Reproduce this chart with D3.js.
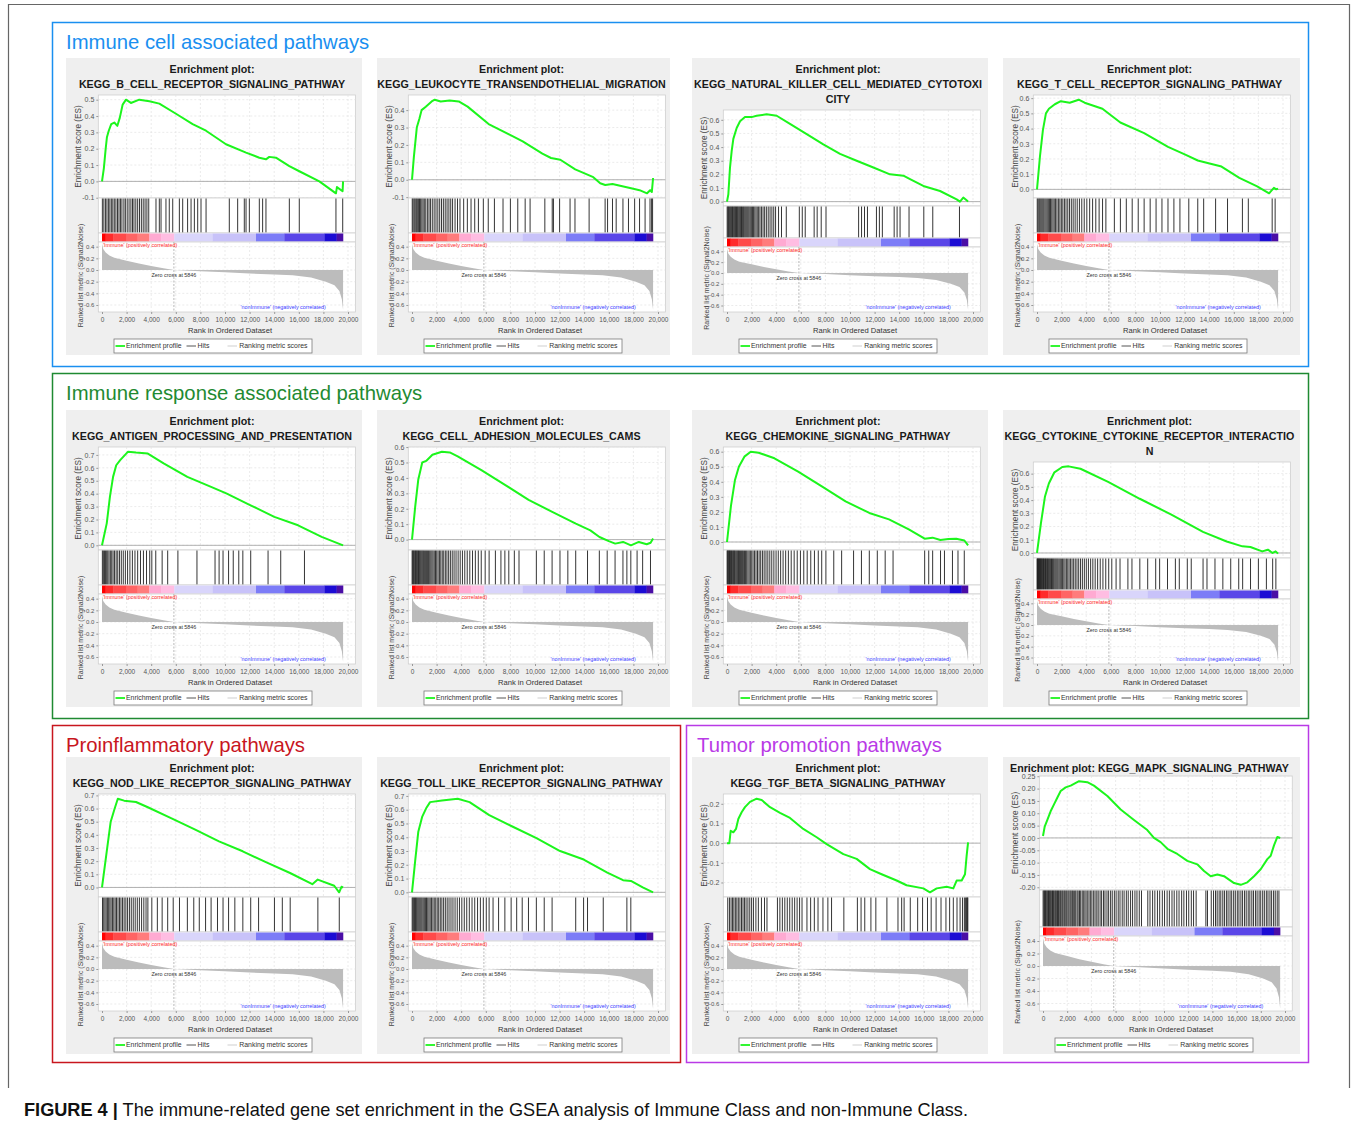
<!DOCTYPE html>
<html>
<head>
<meta charset="utf-8">
<script src="https://cdn.jsdelivr.net/npm/d3@7"></script>
<style>
body { margin: 0; background: #fff; }
svg { display: block; font-family: Arial, "Liberation Sans", sans-serif; }
</style>
</head>
<body>
<div id="chart"></div>
<script>
// ---- Data ----
var groupTitles = ["Immune cell associated pathways", "Immune response associated pathways",
                   "Proinflammatory pathways", "Tumor promotion pathways"];
var caption = ["FIGURE 4 |", " The immune-related gene set enrichment in the GSEA analysis of Immune Class and non-Immune Class."];
var legendLabels = ["Enrichment profile", "Hits", "Ranking metric scores"];
var rankTicks = [0, 2000, 4000, 6000, 8000, 10000, 12000, 14000, 16000, 18000, 20000];
var metricTicks = [0.4, 0.2, 0.0, -0.2, -0.4, -0.6];
var zeroCross = 5846;
var posLabel = "'Immune' (positively correlated)";
var negLabel = "'nonImmune' (negatively correlated)";

// ranked list metric (same for every panel)
var rankMetric = [[0,0.45],[100,0.36],[300,0.3],[600,0.25],[1000,0.21],[2000,0.16],[3000,0.11],[4000,0.07],
  [5000,0.03],[5846,0],[8000,-0.02],[10000,-0.04],[12000,-0.06],[14000,-0.075],[15500,-0.09],[17000,-0.13],
  [18200,-0.2],[18900,-0.26],[19300,-0.36],[19500,-0.5],[19600,-0.68]];

// heat strip blocks (rank breaks and colours)
var barBreaks = [0, 300, 900, 1950, 2900, 3850, 4800, 5880, 9000, 12520, 14820, 18080, 19080, 19600];
var barColors = ["#ff0000","#ff2b2b","#ff4a4a","#ff6464","#ff7c7c","#ffaad2","#ffbde2","#d9d5fb",
                 "#c8c2f9","#7c7cf7","#5a46e8","#1c0cd4","#4a0ea6"];

// panel titles
var titleBCell = ["Enrichment plot:", "KEGG_B_CELL_RECEPTOR_SIGNALING_PATHWAY"];
var titleLeuko = ["Enrichment plot:", "KEGG_LEUKOCYTE_TRANSENDOTHELIAL_MIGRATION"];
var titleNK = ["Enrichment plot:", "KEGG_NATURAL_KILLER_CELL_MEDIATED_CYTOTOXI", "CITY"];
var titleTCell = ["Enrichment plot:", "KEGG_T_CELL_RECEPTOR_SIGNALING_PATHWAY"];
var titleAntigen = ["Enrichment plot:", "KEGG_ANTIGEN_PROCESSING_AND_PRESENTATION"];
var titleCams = ["Enrichment plot:", "KEGG_CELL_ADHESION_MOLECULES_CAMS"];
var titleChemo = ["Enrichment plot:", "KEGG_CHEMOKINE_SIGNALING_PATHWAY"];
var titleCyto = ["Enrichment plot:", "KEGG_CYTOKINE_CYTOKINE_RECEPTOR_INTERACTIO", "N"];
var titleNod = ["Enrichment plot:", "KEGG_NOD_LIKE_RECEPTOR_SIGNALING_PATHWAY"];
var titleToll = ["Enrichment plot:", "KEGG_TOLL_LIKE_RECEPTOR_SIGNALING_PATHWAY"];
var titleTgf = ["Enrichment plot:", "KEGG_TGF_BETA_SIGNALING_PATHWAY"];
var titleMapk = ["Enrichment plot: KEGG_MAPK_SIGNALING_PATHWAY"];

// running enrichment score, [rank, ES]
var esBCell = [[0,0],[150,0.08],[300,0.2],[400,0.27],[550,0.31],[750,0.35],[1000,0.36],[1250,0.34],[1450,0.39],
  [1680,0.47],[1950,0.5],[2350,0.48],[3030,0.5],[3850,0.49],[4660,0.476],[6015,0.414],[7370,0.351],[8455,0.31],
  [10080,0.227],[11710,0.176],[12790,0.145],[13330,0.135],[13600,0.15],[14140,0.145],[15230,0.093],[16040,0.062],
  [17670,0],[19020,-0.073],[19100,-0.035],[19560,-0.06],[19600,0]];
var esLeuko = [[0,0],[150,0.13],[390,0.3],[600,0.35],[780,0.4],[1120,0.42],[1600,0.45],[1850,0.46],[2330,0.45],
  [3060,0.455],[3800,0.45],[4520,0.42],[6230,0.32],[8170,0.25],[9000,0.22],[10600,0.15],[11300,0.125],[12060,0.115],
  [13270,0.06],[14740,0.015],[15300,-0.02],[15710,-0.03],[16300,-0.025],[16920,-0.035],[17900,-0.05],[18500,-0.06],
  [19110,-0.078],[19360,-0.06],[19500,-0.07],[19600,0.01]];
var esNK = [[0,0],[110,0.054],[244,0.25],[380,0.37],[515,0.46],[786,0.54],[1060,0.59],[1460,0.62],[2000,0.62],
  [2410,0.63],[3220,0.64],[4040,0.63],[5120,0.57],[6480,0.495],[7830,0.42],[9190,0.35],[10540,0.3],[11900,0.25],
  [13250,0.2],[14340,0.19],[14880,0.165],[15960,0.115],[17320,0.078],[18670,0.017],[18940,0],[19210,0.03],
  [19480,0.01],[19600,0]];
var esTCell = [[0,0],[240,0.216],[480,0.39],[726,0.5],[970,0.53],[1450,0.56],[1935,0.58],[2660,0.57],[3390,0.59],
  [3870,0.57],[5320,0.53],[6775,0.44],[8710,0.37],[10650,0.28],[12100,0.227],[13070,0.19],[14030,0.17],[15000,0.15],
  [16450,0.076],[17900,0.02],[18870,-0.026],[19260,0.01],[19450,0],[19600,0.005]];
var esAntigen = [[0,0],[386,0.17],[643,0.375],[900,0.53],[1157,0.62],[1478,0.66],[2120,0.725],[2763,0.718],
  [3727,0.71],[5012,0.635],[6940,0.53],[8868,0.453],[10150,0.4],[12080,0.31],[14010,0.22],[15940,0.155],
  [17860,0.065],[19600,0]];
var esCams = [[0,0],[256,0.21],[512,0.39],[833,0.5],[1150,0.51],[1660,0.55],[2430,0.57],[3070,0.565],[3715,0.54],
  [5640,0.45],[7560,0.355],[9480,0.257],[11400,0.18],[13320,0.104],[14500,0.06],[15240,0.017],[16000,-0.01],
  [16520,-0.026],[17160,-0.015],[17800,-0.037],[18440,-0.015],[19080,-0.03],[19400,-0.02],[19600,0.007]];
var esChemo = [[0,0],[321,0.24],[643,0.41],[964,0.5],[1414,0.567],[1928,0.6],[2570,0.593],[3856,0.556],[5783,0.468],
  [7710,0.37],[9640,0.27],[11570,0.193],[13170,0.15],[14780,0.084],[16070,0.022],[16710,0.029],[17350,0.013],
  [18000,0.02],[18640,0.022],[19300,0.01],[19600,-0.022]];
var esCyto = [[0,0],[321,0.225],[643,0.425],[964,0.525],[1414,0.61],[2056,0.65],[2570,0.655],[3534,0.637],
  [5783,0.537],[8354,0.41],[10925,0.29],[13495,0.16],[15420,0.087],[16700,0.05],[17350,0.045],[18310,0.012],
  [18770,0.025],[19150,0],[19400,0.012],[19600,-0.005]];
var esNod = [[0,0],[386,0.275],[707,0.5],[1030,0.6],[1285,0.675],[1800,0.66],[2763,0.65],[3727,0.61],[5655,0.525],
  [7580,0.44],[9510,0.35],[11440,0.275],[13370,0.19],[15290,0.11],[17100,0.025],[17540,0.06],[18880,0.013],
  [19280,-0.037],[19470,0.005],[19600,0]];
var esToll = [[0,0],[256,0.226],[512,0.44],[833,0.55],[1150,0.61],[1470,0.655],[2430,0.667],[3715,0.68],
  [4680,0.655],[6280,0.56],[8200,0.476],[10120,0.393],[12040,0.3],[13960,0.238],[15880,0.143],[17160,0.088],
  [17800,0.083],[18760,0.036],[19600,0]];
var esTgf = [[0,0],[190,0],[300,0.063],[515,0.055],[730,0.072],[920,0.123],[1190,0.157],[1460,0.183],[1870,0.21],
  [2410,0.226],[2820,0.219],[3500,0.183],[4310,0.154],[5120,0.128],[6200,0.072],[7290,0.03],[8100,-0.005],
  [9460,-0.056],[10540,-0.08],[11620,-0.132],[12570,-0.158],[13790,-0.19],[14600,-0.214],[15960,-0.23],
  [16500,-0.25],[17050,-0.23],[17860,-0.222],[18400,-0.23],[18670,-0.19],[19080,-0.19],[19350,-0.158],
  [19480,-0.066],[19600,0.004]];
var esMapk = [[0,0.008],[140,0.046],[360,0.073],[630,0.108],[910,0.136],[1180,0.163],[1460,0.19],[1870,0.205],
  [2290,0.212],[2560,0.219],[2980,0.23],[3660,0.226],[4210,0.212],[5320,0.17],[6420,0.115],[7520,0.073],
  [8620,0.032],[9170,0],[9720,-0.017],[10280,-0.044],[11100,-0.065],[11930,-0.093],[12750,-0.107],[13310,-0.134],
  [13860,-0.155],[14410,-0.148],[14960,-0.155],[15790,-0.183],[16340,-0.19],[16890,-0.18],[17440,-0.155],
  [17990,-0.127],[18540,-0.086],[18820,-0.072],[19090,-0.03],[19370,0.004],[19600,0]];

// hit positions (rank of each gene of the set)
var hitsBCell = [30,150,280,400,520,640,760,880,1000,1130,1260,1380,1500,1620,1780,1900,2050,2200,2350,2480,2600,
  2750,2900,3050,3200,3350,3500,3650,3800,4390,4660,4800,5200,5470,5750,6290,6560,6960,7240,7510,7780,8050,8460,
  10350,11030,11570,11710,11980,12790,13060,13330,15230,16040,19020,19570];
var hitsLeuko = [20,90,180,260,350,430,520,610,700,800,900,1000,1120,1250,1380,1500,1650,1800,1950,2100,2250,
  2400,2550,2700,2850,3000,3150,3300,3500,3700,3900,4200,4500,4800,5100,5400,5800,6200,6700,7400,8000,8600,9200,
  9600,10800,11400,11500,12000,12850,13250,14400,15700,15900,16300,16600,17150,17600,18100,18500,18950,19350,
  19480,19560];
var hitsNK = [15,70,130,190,260,320,380,450,510,580,640,700,770,840,900,970,1040,1110,1180,1250,1330,1400,1480,
  1560,1640,1720,1800,1890,1980,2070,2160,2260,2360,2460,2570,2680,2800,2930,3060,3200,3350,3500,3650,3800,3950,
  4190,4430,4820,5880,6120,6360,7085,7330,7660,8050,10700,10940,11180,11420,12150,12390,12630,13590,13830,14070,
  14800,16000,16730,18900];
var hitsTCell = [20,90,170,240,320,400,480,560,650,740,830,920,1010,1100,1200,1300,1400,1510,1620,1740,1860,1980,
  2100,2230,2360,2500,2640,2790,2940,3100,3270,3450,3640,3840,4050,4280,4520,4780,5050,5330,5600,6290,6780,7260,
  7740,8230,8710,9200,9680,10160,10650,11130,11620,12340,13070,13550,14520,15490,16700,17180,19120,19360];
var hitsAntigen = [30,110,200,290,380,470,570,680,790,900,1020,1150,1280,1420,1570,1730,1900,2080,2270,2470,2680,
  2900,3130,3370,3620,3880,4050,4370,4890,5340,6170,7720,9190,9520,9840,10290,10670,11120,11450,12090,13500,14530,
  16460];
var hitsCams = [10,60,110,170,230,290,350,410,470,530,600,670,740,810,880,950,1030,1110,1190,1270,1350,1440,1530,
  1620,1710,1810,1910,2010,2120,2230,2340,2460,2580,2710,2840,2980,3120,3270,3420,3580,3750,3920,4100,4290,4490,
  4700,4920,5150,5390,5630,5950,6270,6780,7230,7550,7870,8320,8700,10110,10750,11390,12030,12670,13310,14270,
  15230,15870,16510,17150,17470,17790,18300,18750,19390];
var hitsChemo = [10,55,100,150,200,250,300,360,420,480,540,600,660,730,800,870,940,1010,1090,1170,1250,1330,1420,
  1510,1600,1700,1800,1900,2010,2120,2240,2360,2480,2610,2740,2880,3020,3170,3320,3480,3640,3810,3990,4170,4360,
  4560,4770,4990,5220,5460,5710,5970,6240,6520,6810,7110,7420,7700,8040,8680,9320,10290,10930,11570,12220,12860,
  13500,16070,16400,16720,17360,17680,18330,18780,19290];
var hitsCyto = [5,40,80,120,160,200,245,290,335,380,430,480,530,580,635,690,745,800,860,920,980,1040,1110,1180,
  1250,1320,1390,1470,1550,1630,1710,1800,1890,1980,2080,2180,2280,2390,2500,2610,2730,2850,2980,3110,3250,3390,
  3540,3690,3850,4010,4180,4360,4540,4730,4930,5140,5360,5590,5830,6080,6430,6750,7390,7720,8360,9000,9650,9970,
  10610,11250,11570,12220,12540,13500,13820,14470,15110,15750,16400,16720,17360,18000,18650,19160,19420];
var hitsNod = [40,140,240,340,440,540,640,740,850,960,1070,1180,1300,1420,1540,1670,1800,1940,2080,2230,2380,2540,
  2700,2870,3040,3220,3400,3580,3730,4050,4500,4890,5340,5790,6300,6940,7460,7910,8420,8870,9390,9840,10290,10800,
  11450,12090,12730,14020,14660,15300,17550,19290];
var hitsToll = [15,75,140,210,280,350,420,500,580,660,740,820,910,1000,1090,1180,1280,1380,1480,1590,1700,1810,
  1930,2050,2170,2300,2430,2570,2710,2860,3010,3170,3330,3500,3680,3860,4050,4250,4450,4660,4880,5100,5330,5560,
  5800,6040,6270,6590,7040,7550,8060,8510,8960,9470,10110,10750,11390,13310,13950,14270,15550,17470,17790];
var hitsTgf = [60,200,330,450,560,680,800,920,1050,1180,1300,1420,1550,1700,1850,2000,2150,2350,2550,2800,3050,
  3250,4100,4300,4500,4700,4900,5100,5300,5500,5700,5900,6100,6500,6800,7100,7400,7800,8200,8500,9500,10600,10900,
  11200,11700,12100,13000,13900,14200,14400,14900,15500,15900,16300,16600,17000,17400,17800,18100,18400,18700,
  18950,19150,19300,19400,19480,19540,19580];
var hitsMapk = [10,75,130,205,262,330,395,455,528,590,648,725,785,857,918,995,1056,1134,1197,1275,1338,1425,1486,
  1574,1643,1736,1805,1893,1968,2066,2148,2245,2327,2426,2505,2617,2705,2818,2903,3017,3114,3238,3332,3459,3563,
  3697,3806,3938,4044,4186,4303,4447,4562,4718,4843,4998,5122,5287,5424,5587,5722,5898,6043,6217,6364,6548,6703,
  6887,7044,7238,7404,7597,7765,7956,8140,8660,8843,9058,9244,9457,9643,9861,10044,10258,10443,10661,10842,11058,
  11243,11458,11642,11857,12043,12258,12442,12655,13460,13594,13905,14094,14258,14395,14557,14694,14858,14995,
  15157,15294,15458,15595,15757,15894,16058,16194,16357,16495,16657,16794,16958,17095,17258,17394,17557,17694,
  17858,17994,18157,18294,18457,18594,18757,18894,19057,19194,19357,19498];

// ---- Layout ----
var svg = d3.select("#chart").append("svg").attr("width", 1356).attr("height", 1124);

var layouts = {
  one:   {titleY: [11],         esTop: 19, esBot: 133, hitsBot: 170, cbBot: 179},
  two:   {titleY: [11, 26],     esTop: 37, esBot: 140, hitsBot: 175, cbBot: 184},
  three: {titleY: [11, 26, 41], esTop: 52, esBot: 148, hitsBot: 180, cbBot: 189}
};
var rankBot = 254, panelH = 297;
var colLeft = [66, 377, 692, 1003], colWidth = [296, 293, 296, 297], colX0 = [36, 35, 35, 34];
var rowTop = [58, 410, 757];

var panels = [
  {row: 0, col: 0, title: titleBCell,   es: esBCell,   hits: hitsBCell},
  {row: 0, col: 1, title: titleLeuko,   es: esLeuko,   hits: hitsLeuko},
  {row: 0, col: 2, title: titleNK,      es: esNK,      hits: hitsNK},
  {row: 0, col: 3, title: titleTCell,   es: esTCell,   hits: hitsTCell},
  {row: 1, col: 0, title: titleAntigen, es: esAntigen, hits: hitsAntigen},
  {row: 1, col: 1, title: titleCams,    es: esCams,    hits: hitsCams},
  {row: 1, col: 2, title: titleChemo,   es: esChemo,   hits: hitsChemo},
  {row: 1, col: 3, title: titleCyto,    es: esCyto,    hits: hitsCyto},
  {row: 2, col: 0, title: titleNod,     es: esNod,     hits: hitsNod},
  {row: 2, col: 1, title: titleToll,    es: esToll,    hits: hitsToll},
  {row: 2, col: 2, title: titleTgf,     es: esTgf,     hits: hitsTgf},
  {row: 2, col: 3, title: titleMapk,    es: esMapk,    hits: hitsMapk, step: 0.05, fmt: ".2f", x0: 40, axisW: 242}
];

// outer frame
svg.append("path").attr("d", "M8.5,1088V4.5H1349.5V1088")
  .attr("fill", "none").attr("stroke", "#666").attr("stroke-width", 1.2);

// group boxes
var groupBoxes = [
  {x: 52, y: 22, w: 1256, h: 344, color: "#1a8ff0", tx: 66},
  {x: 52, y: 373, w: 1256, h: 345, color: "#1f8a32", tx: 66},
  {x: 52, y: 725, w: 628, h: 337, color: "#c8161e", tx: 66},
  {x: 686, y: 725, w: 622, h: 337, color: "#b93ae6", tx: 697}
];
groupBoxes.forEach(function(b, i) {
  svg.append("rect").attr("x", b.x + 0.5).attr("y", b.y + 0.5).attr("width", b.w).attr("height", b.h)
    .attr("fill", "none").attr("stroke", b.color).attr("stroke-width", 1.5);
  svg.append("text").attr("x", b.tx).attr("y", b.y + 27).attr("font-size", 20.3).attr("fill", b.color)
    .text(groupTitles[i]);
});

var fmtHyphen = function(f) { return function(d) { return d3.format(f)(d).replace("\u2212", "-"); }; };

function styleAxis(a, size) {
  a.select(".domain").remove();
  a.selectAll(".tick line").attr("stroke", "#999");
  a.selectAll(".tick text").attr("font-size", size).attr("fill", "#555").attr("font-family", "Arial, 'Liberation Sans', sans-serif");
}

function drawPanel(p) {
  var L = layouts[p.title.length === 1 ? "one" : (p.title.length === 3 ? "three" : "two")];
  var bgW = colWidth[p.col];
  var g = svg.append("g").attr("transform", "translate(" + colLeft[p.col] + "," + rowTop[p.row] + ")");
  g.append("rect").attr("width", bgW).attr("height", panelH).attr("fill", "#efefef");

  var x0 = p.x0 || colX0[p.col], axisW = p.axisW || 246;
  var x = d3.scaleLinear().domain([0, 20000]).range([x0, x0 + axisW]);
  var boxL = x(-300), boxR = x(20600);

  // title
  p.title.forEach(function(t, i) {
    g.append("text").attr("x", bgW / 2 - 2).attr("y", L.titleY[i]).attr("dy", "0.36em")
      .attr("text-anchor", "middle").attr("font-weight", "bold").attr("font-size", 10.7)
      .attr("fill", "#1a1a1a").text(t);
  });

  // --- enrichment score plot ---
  var step = p.step || 0.1;
  var ext = d3.extent(p.es, function(d) { return d[1]; });
  var pad = (ext[1] - ext[0]) * 0.05;
  var y = d3.scaleLinear().domain([ext[0] - pad, ext[1] + pad]).range([L.esBot, L.esTop]);
  var esTicks = d3.range(Math.ceil(y.domain()[0] / step - 1e-6), Math.floor(y.domain()[1] / step + 1e-6) + 1)
    .map(function(k) { return +(k * step).toFixed(3); });

  g.append("rect").attr("x", boxL).attr("y", L.esTop).attr("width", boxR - boxL).attr("height", L.esBot - L.esTop)
    .attr("fill", "#fff").attr("stroke", "#cfcfcf").attr("stroke-width", 0.8);
  g.append("g").selectAll("line").data(esTicks).join("line")
    .attr("x1", boxL).attr("x2", boxR).attr("y1", y).attr("y2", y)
    .attr("stroke", "#e2e2e2").attr("stroke-width", 0.7).attr("stroke-dasharray", "2,2");
  g.append("g").selectAll("line").data(rankTicks.slice(1)).join("line")
    .attr("x1", x).attr("x2", x).attr("y1", L.esTop).attr("y2", L.esBot)
    .attr("stroke", "#e2e2e2").attr("stroke-width", 0.7).attr("stroke-dasharray", "2,2");
  g.append("line").attr("x1", boxL).attr("x2", boxR).attr("y1", y(0)).attr("y2", y(0))
    .attr("stroke", "#a8a8a8").attr("stroke-width", 0.9);
  var ay = g.append("g").attr("transform", "translate(" + boxL + ",0)")
    .call(d3.axisLeft(y).tickValues(esTicks).tickFormat(fmtHyphen(p.fmt || ".1f")).tickSize(2).tickPadding(2));
  styleAxis(ay, 7);
  g.append("path").datum(p.es)
    .attr("d", d3.line().x(function(d) { return x(d[0]); }).y(function(d) { return y(d[1]); }))
    .attr("fill", "none").attr("stroke", "#1cf51c").attr("stroke-width", 2).attr("stroke-linejoin", "round");
  g.append("text").attr("transform", "translate(" + 12 + "," + (L.esTop + L.esBot) / 2 + ") rotate(-90)")
    .attr("text-anchor", "middle").attr("dy", "0.35em").attr("font-size", 8.2).attr("fill", "#444")
    .text("Enrichment score (ES)");

  // --- hits ---
  g.append("rect").attr("x", boxL).attr("y", L.esBot).attr("width", boxR - boxL).attr("height", L.hitsBot - L.esBot)
    .attr("fill", "#fff").attr("stroke", "#cfcfcf").attr("stroke-width", 0.8);
  g.append("g").selectAll("line").data(p.hits).join("line")
    .attr("x1", x).attr("x2", x).attr("y1", L.esBot + 0.5).attr("y2", L.hitsBot - 0.5)
    .attr("stroke", "#1e1e1e").attr("stroke-width", 0.9);

  // --- heat strip ---
  g.append("rect").attr("x", boxL).attr("y", L.hitsBot).attr("width", boxR - boxL).attr("height", L.cbBot - L.hitsBot)
    .attr("fill", "#fff").attr("stroke", "#cfcfcf").attr("stroke-width", 0.8);
  g.append("g").selectAll("rect").data(barColors).join("rect")
    .attr("x", function(d, i) { return x(barBreaks[i]); })
    .attr("width", function(d, i) { return x(barBreaks[i + 1]) - x(barBreaks[i]) + 0.2; })
    .attr("y", L.hitsBot + 0.5).attr("height", L.cbBot - L.hitsBot - 1).attr("fill", function(d) { return d; });

  // --- ranked list metric ---
  var ym = d3.scaleLinear().domain([-0.72, 0.48]).range([rankBot, L.cbBot]);
  g.append("rect").attr("x", boxL).attr("y", L.cbBot).attr("width", boxR - boxL).attr("height", rankBot - L.cbBot)
    .attr("fill", "#fff").attr("stroke", "#cfcfcf").attr("stroke-width", 0.8);
  g.append("g").selectAll("line").data(metricTicks).join("line")
    .attr("x1", boxL).attr("x2", boxR).attr("y1", ym).attr("y2", ym)
    .attr("stroke", "#e2e2e2").attr("stroke-width", 0.7).attr("stroke-dasharray", "2,2");
  g.append("g").selectAll("line").data(rankTicks.slice(1)).join("line")
    .attr("x1", x).attr("x2", x).attr("y1", L.cbBot).attr("y2", rankBot)
    .attr("stroke", "#e2e2e2").attr("stroke-width", 0.7).attr("stroke-dasharray", "2,2");
  g.append("path").datum(rankMetric)
    .attr("d", d3.area().x(function(d) { return x(d[0]); }).y0(ym(0)).y1(function(d) { return ym(d[1]); }))
    .attr("fill", "#bcbcbc");
  g.append("line").attr("x1", x(zeroCross)).attr("x2", x(zeroCross)).attr("y1", L.cbBot).attr("y2", rankBot)
    .attr("stroke", "#999").attr("stroke-width", 0.7).attr("stroke-dasharray", "2,1.5");
  var am = g.append("g").attr("transform", "translate(" + boxL + ",0)")
    .call(d3.axisLeft(ym).tickValues(metricTicks).tickFormat(fmtHyphen(".1f")).tickSize(2).tickPadding(2));
  styleAxis(am, 6);
  g.append("text").attr("x", x(zeroCross)).attr("y", ym(0) + 7).attr("text-anchor", "middle")
    .attr("font-size", 5.4).attr("fill", "#333").text("Zero cross at " + zeroCross);
  g.append("text").attr("x", x(0) + 1).attr("y", L.cbBot + 5).attr("font-size", 5.4).attr("fill", "#ff2a2a")
    .text(posLabel);
  g.append("text").attr("x", x(18200)).attr("y", rankBot - 3).attr("text-anchor", "end")
    .attr("font-size", 5.4).attr("fill", "#3a3aff").text(negLabel);
  g.append("text").attr("transform", "translate(" + 14.5 + "," + ((L.hitsBot + rankBot) / 2 + 3) + ") rotate(-90)")
    .attr("text-anchor", "middle").attr("dy", "0.35em").attr("font-size", 7).attr("fill", "#444")
    .text("Ranked list metric (Signal2Noise)");

  // x axis
  var ax = g.append("g").attr("transform", "translate(0," + rankBot + ")")
    .call(d3.axisBottom(x).tickValues(rankTicks).tickFormat(d3.format(",")).tickSize(2).tickPadding(3));
  styleAxis(ax, 6.5);
  g.append("text").attr("x", x0 + 128).attr("y", 274.5).attr("text-anchor", "middle")
    .attr("font-size", 7.6).attr("fill", "#333").text("Rank in Ordered Dataset");

  // legend
  var lg = g.append("g").attr("transform", "translate(" + x0 + ",281)");
  lg.append("rect").attr("x", 12).attr("width", 198).attr("height", 14)
    .attr("fill", "#fff").attr("stroke", "#7a7a7a").attr("stroke-width", 0.8);
  var items = [{x: 13.5, c: "#1cf51c", w: 1.8}, {x: 84.5, c: "#555", w: 1}, {x: 125.5, c: "#cfcfcf", w: 1}];
  var textX = [24, 95.5, 137.3];
  items.forEach(function(it, i) {
    lg.append("line").attr("x1", it.x).attr("x2", it.x + 9.5).attr("y1", 7).attr("y2", 7)
      .attr("stroke", it.c).attr("stroke-width", it.w);
    lg.append("text").attr("x", textX[i]).attr("y", 7).attr("dy", "0.35em").attr("font-size", 6.9)
      .attr("fill", "#333").text(legendLabels[i]);
  });
}

panels.forEach(drawPanel);

// caption
var cap = svg.append("text").attr("x", 24).attr("y", 1115.5).attr("font-size", 19).attr("fill", "#111")
  .attr("font-family", "'Liberation Sans', Arial, sans-serif")
  .attr("textLength", 944).attr("lengthAdjust", "spacingAndGlyphs");
cap.append("tspan").attr("font-weight", "bold").text(caption[0]);
cap.append("tspan").text(caption[1]);
</script>
</body>
</html>
